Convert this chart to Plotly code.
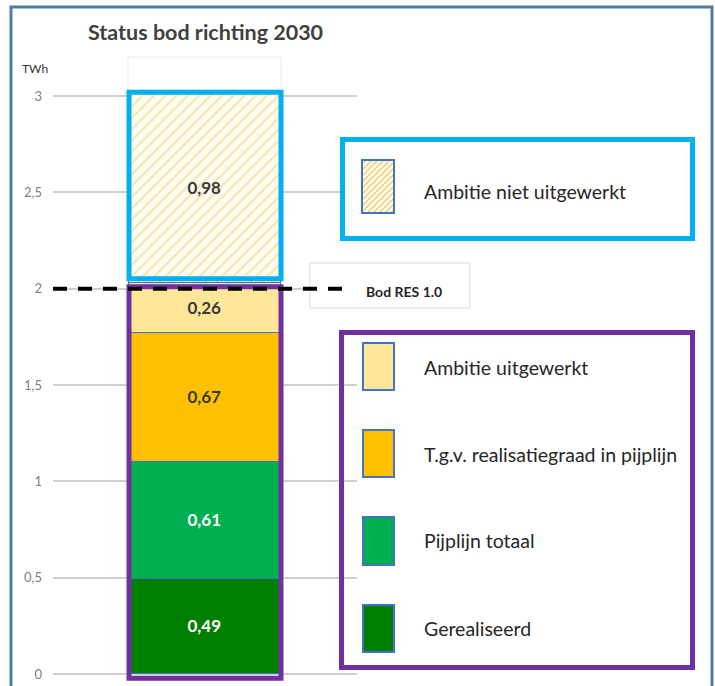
import plotly.graph_objects as go

# ---- data ----
categories = ["Gerealiseerd", "Pijplijn totaal", "T.g.v. realisatiegraad in pijplijn",
              "Ambitie uitgewerkt", "Ambitie niet uitgewerkt"]
values = [0.49, 0.61, 0.67, 0.26, 0.98]
value_labels = ["0,49", "0,61", "0,67", "0,26", "0,98"]
bod_value = 2.0
bod_label = "Bod RES 1.0"
tick_values = [0, 0.5, 1, 1.5, 2, 2.5, 3]
tick_labels = ["0", "0,5", "1", "1,5", "2", "2,5", "3"]
title_text = "Status bod richting 2030"
unit_text = "TWh"

# ---- styles ----
W, H = 715, 686
FONT = "Lato"
fills = ["#008000", "#00b050", "#ffc000", "#ffe699", "#fffcf2"]
text_colors = ["#ffffff", "#ffffff", "#3a3a3a", "#3a3a3a", "#3a3a3a"]
SEP = "#4472c4"
BLUE = "#00b0f0"
PURPLE = "#7030a0"
HATCH = "#f3c95e"

def px(x):
    return x / W

def py(y):
    return 1 - y / H

# main plot geometry (pixels)
x_left, x_right = 53, 357
y_zero = 674
ppu = 578 / 3.0
y_min, y_max = -0.06, 3.3
dom_bottom = py(y_zero + (0 - y_min) * ppu)
dom_top = py(y_zero - y_max * ppu)

fig = go.Figure()
for i, (cat, v) in enumerate(zip(categories, values)):
    marker = dict(color=fills[i], line=dict(color=SEP, width=1.5))
    if i == 4:
        marker["pattern"] = dict(shape="/", fgcolor=HATCH, bgcolor="#fffcf2",
                                 size=8, solidity=0.25)
    fig.add_trace(go.Bar(
        x=[0], y=[v], name=cat, width=0.5, marker=marker,
        text=[value_labels[i]], textposition="inside", insidetextanchor="middle",
        textangle=0, constraintext="none",
        textfont=dict(family=FONT, size=17, color=text_colors[i], weight="bold"),
        hoverinfo="skip", showlegend=False,
    ))

cum = [sum(values[:k]) for k in range(len(values) + 1)]
shapes = []

# outer frame
shapes.append(dict(type="path", xref="paper", yref="paper",
                   path=f"M {px(11)} {py(686)} L {px(11)} {py(7)} L {px(712)} {py(7)} L {px(712)} {py(686)}",
                   line=dict(color="#4f7fa0", width=3)))
# faint empty box above bar
shapes.append(dict(type="rect", xref="paper", yref="paper",
                   x0=px(128), x1=px(281), y0=py(90), y1=py(57),
                   line=dict(color="#ececec", width=1), fillcolor="rgba(0,0,0,0)"))
# thick outlines around bar groups
shapes.append(dict(type="rect", xref="x", yref="y", x0=-0.25, x1=0.25,
                   y0=cum[4] + 0.022, y1=cum[5] + 0.01,
                   line=dict(color=BLUE, width=5), layer="above"))
shapes.append(dict(type="rect", xref="x", yref="y", x0=-0.25, x1=0.25,
                   y0=-0.022, y1=cum[4] - 0.02,
                   line=dict(color=PURPLE, width=5), layer="above"))
# label box for Bod RES
shapes.append(dict(type="rect", xref="paper", yref="paper",
                   x0=px(310), x1=px(470), y0=py(308), y1=py(263),
                   line=dict(color="#dadada", width=1), fillcolor="white", layer="above"))
# dashed bod line
shapes.append(dict(type="line", xref="paper", yref="y", x0=px(x_left), x1=px(352),
                   y0=bod_value, y1=bod_value,
                   line=dict(color="black", width=4, dash="14px,11px"), layer="above"))

# legend boxes
shapes.append(dict(type="rect", xref="paper", yref="paper",
                   x0=px(342.5), x1=px(692.5), y0=py(238.5), y1=py(139.5),
                   line=dict(color=BLUE, width=5), fillcolor="white", layer="above"))
shapes.append(dict(type="rect", xref="paper", yref="paper",
                   x0=px(341.5), x1=px(692.5), y0=py(667.5), y1=py(332.5),
                   line=dict(color=PURPLE, width=5), fillcolor="rgba(0,0,0,0)", layer="above"))

annotations = []

def swatch(x0, y0, x1, y1, color):
    shapes.append(dict(type="rect", xref="paper", yref="paper",
                       x0=px(x0), x1=px(x1), y0=py(y1), y1=py(y0),
                       line=dict(color=SEP, width=2), fillcolor=color, layer="above"))

def label(x, y, text, size, color, xanchor="left", bold=False):
    annotations.append(dict(x=px(x), y=py(y), xref="paper", yref="paper",
                            text=f"<b>{text}</b>" if bold else text, showarrow=False,
                            xanchor=xanchor, yanchor="middle",
                            font=dict(family=FONT, size=size, color=color)))

# hatched swatch
hx0, hy0, hx1, hy1 = 362, 160, 394, 213
swatch(hx0, hy0, hx1, hy1, "#fffcf2")
segs = []
c = hx0 + hy0 + 4
while c < hx1 + hy1:
    xa = max(hx0, c - hy1)
    xb = min(hx1, c - hy0)
    if xb > xa:
        segs.append(f"M {px(xa)} {py(c - xa)} L {px(xb)} {py(c - xb)}")
    c += 6
shapes.append(dict(type="path", xref="paper", yref="paper", path=" ".join(segs),
                   line=dict(color=HATCH, width=1.2), layer="above"))
swatch(hx0, hy0, hx1, hy1, "rgba(0,0,0,0)")
label(422, 191, categories[4], 19.5, "#262626")

legend_rows = [(3, 343, 390, 367), (2, 430, 477, 454), (1, 517, 565, 540), (0, 605, 652, 628)]
for idx, y0, y1, yc in legend_rows:
    swatch(363, y0, 394, y1, fills[idx])
    label(422, yc, categories[idx], 19.5, "#262626")

label(205, 32, title_text, 21.5, "#404040", xanchor="center", bold=True)
label(35, 68, unit_text, 12, "#333333", xanchor="center")
label(404, 291, bod_label, 14, "#262626", xanchor="center", bold=True)

fig.update_layout(
    width=W, height=H,
    margin=dict(l=0, r=0, t=0, b=0),
    paper_bgcolor="white", plot_bgcolor="rgba(0,0,0,0)",
    barmode="stack", bargap=0,
    showlegend=False,
    shapes=shapes, annotations=annotations,
    xaxis=dict(domain=[px(x_left), px(x_right)], range=[-0.5, 0.5],
               showticklabels=False, showgrid=False, zeroline=False, showline=False,
               fixedrange=True),
    yaxis=dict(domain=[dom_bottom, dom_top], range=[y_min, y_max],
               tickvals=tick_values, ticktext=tick_labels,
               showgrid=True, gridcolor="#d0d0d0", gridwidth=1.5,
               zeroline=False, showline=False, ticks="",
               ticklabelstandoff=10,
               tickfont=dict(family=FONT, size=13, color="#808080"),
               fixedrange=True),
)

fig.write_html("out.html", config={"displayModeBar": False},
               post_script="document.body.style.margin='0';document.body.style.overflow='hidden';")
